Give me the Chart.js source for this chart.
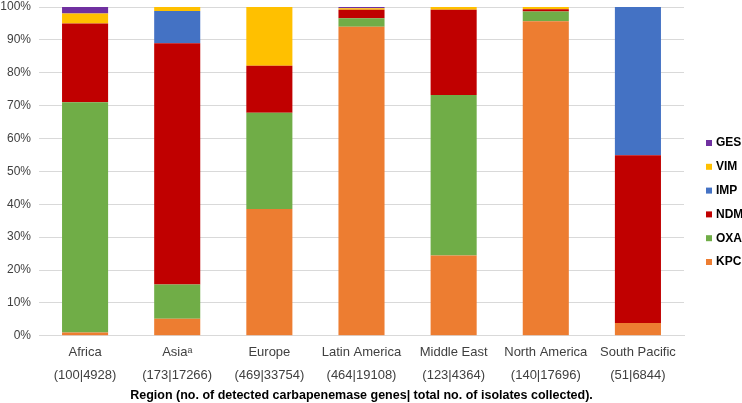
<!DOCTYPE html>
<html>
<head>
<meta charset="utf-8">
<script src="https://cdn.jsdelivr.net/npm/chart.js@4"></script>
<style>
  html, body { margin: 0; padding: 0; background: #fff; }
  #wrap { width: 742px; height: 403px; position: relative; }
</style>
</head>
<body>
<div id="wrap"><canvas id="carbapenemase-chart"></canvas></div>
<script>
// Regions and (detected genes | isolates collected)
const regions = ["Africa", "Asia\u1D43", "Europe", "Latin America", "Middle East", "North America", "South Pacific"];
const countLabels = ["(100|4928)", "(173|17266)", "(469|33754)", "(464|19108)", "(123|4364)", "(140|17696)", "(51|6844)"];

// Share of detected genes per region (%)
const kpc = [1.0, 5.2, 38.6, 94.0, 24.4, 95.7, 3.9];
const oxa = [70.0, 10.4, 29.2, 2.6, 48.8, 2.9, 0];
const ndm = [24.0, 73.4, 14.3, 2.6, 26.0, 0.7, 51.0];
const imp = [0, 9.8, 0, 0, 0, 0, 45.1];
const vim = [3.0, 1.2, 17.9, 0.4, 0.8, 0.7, 0];
const ges = [2.0, 0, 0, 0.4, 0, 0, 0];

const yTicks = [0, 10, 20, 30, 40, 50, 60, 70, 80, 90, 100];

const font = "'Liberation Sans', Arial, sans-serif";

const series = [
  { label: "KPC", data: kpc, color: "#ED7D31" },
  { label: "OXA", data: oxa, color: "#70AD47" },
  { label: "NDM", data: ndm, color: "#C00000" },
  { label: "IMP", data: imp, color: "#4472C4" },
  { label: "VIM", data: vim, color: "#FFC000" },
  { label: "GES", data: ges, color: "#7030A0" },
];

// Excel-style legend on the right: small squares, top item = top of the stack
const sideLegend = {
  id: "sideLegend",
  afterDraw(chart) {
    const c = chart.ctx;
    const sets = chart.data.datasets.slice().reverse();
    const x = chart.chartArea.right + 22;
    const step = 23.8;
    const y0 = 143;
    c.save();
    c.font = "bold 12px " + font;
    c.textBaseline = "middle";
    c.textAlign = "left";
    sets.forEach((ds, i) => {
      const y = y0 + i * step;
      c.fillStyle = ds.backgroundColor;
      c.fillRect(x, y - 3, 6, 6);
      c.fillStyle = "#000";
      c.fillText(ds.label, x + 10, y);
    });
    c.restore();
  },
};

const ctx = document.getElementById("carbapenemase-chart").getContext("2d");

new Chart(ctx, {
  type: "bar",
  data: {
    labels: regions.map((r, i) => [r, countLabels[i]]),
    datasets: series.map((s) => ({
      label: s.label,
      data: s.data,
      backgroundColor: s.color,
      borderWidth: 0,
      categoryPercentage: 1.0,
      barPercentage: 0.5,
    })),
  },
  options: {
    responsive: true,
    maintainAspectRatio: false,
    animation: false,
    layout: { padding: { top: 0, right: 58, left: 0, bottom: 0 } },
    plugins: {
      tooltip: { enabled: false },
      legend: { display: false },
    },
    scales: {
      x: {
        stacked: true,
        grid: { display: false, drawTicks: false },
        border: { display: true, color: "#D9D9D9" },
        ticks: {
          color: "#404040",
          font: { family: font, size: 13, lineHeight: 1.7 },
          maxRotation: 0,
          autoSkip: false,
          padding: 6,
        },
        title: {
          display: true,
          text: "Region (no. of detected carbapenemase genes| total no. of isolates collected).",
          color: "#000",
          font: { family: font, size: 12.5, weight: "bold" },
          padding: { top: -4, bottom: 0 },
        },
      },
      y: {
        stacked: true,
        min: 0,
        max: 100,
        afterBuildTicks: (axis) => {
          axis.ticks = yTicks.map((v) => ({ value: v }));
        },
        afterFit: (axis) => {
          axis.width = 39;
          axis.paddingTop = 7;
        },
        grid: { color: "#D9D9D9", drawTicks: false },
        border: { display: false },
        ticks: {
          color: "#404040",
          font: { family: font, size: 12 },
          padding: 8,
          callback: (v) => v + "%",
        },
      },
    },
  },
  plugins: [sideLegend],
});
</script>
</body>
</html>
